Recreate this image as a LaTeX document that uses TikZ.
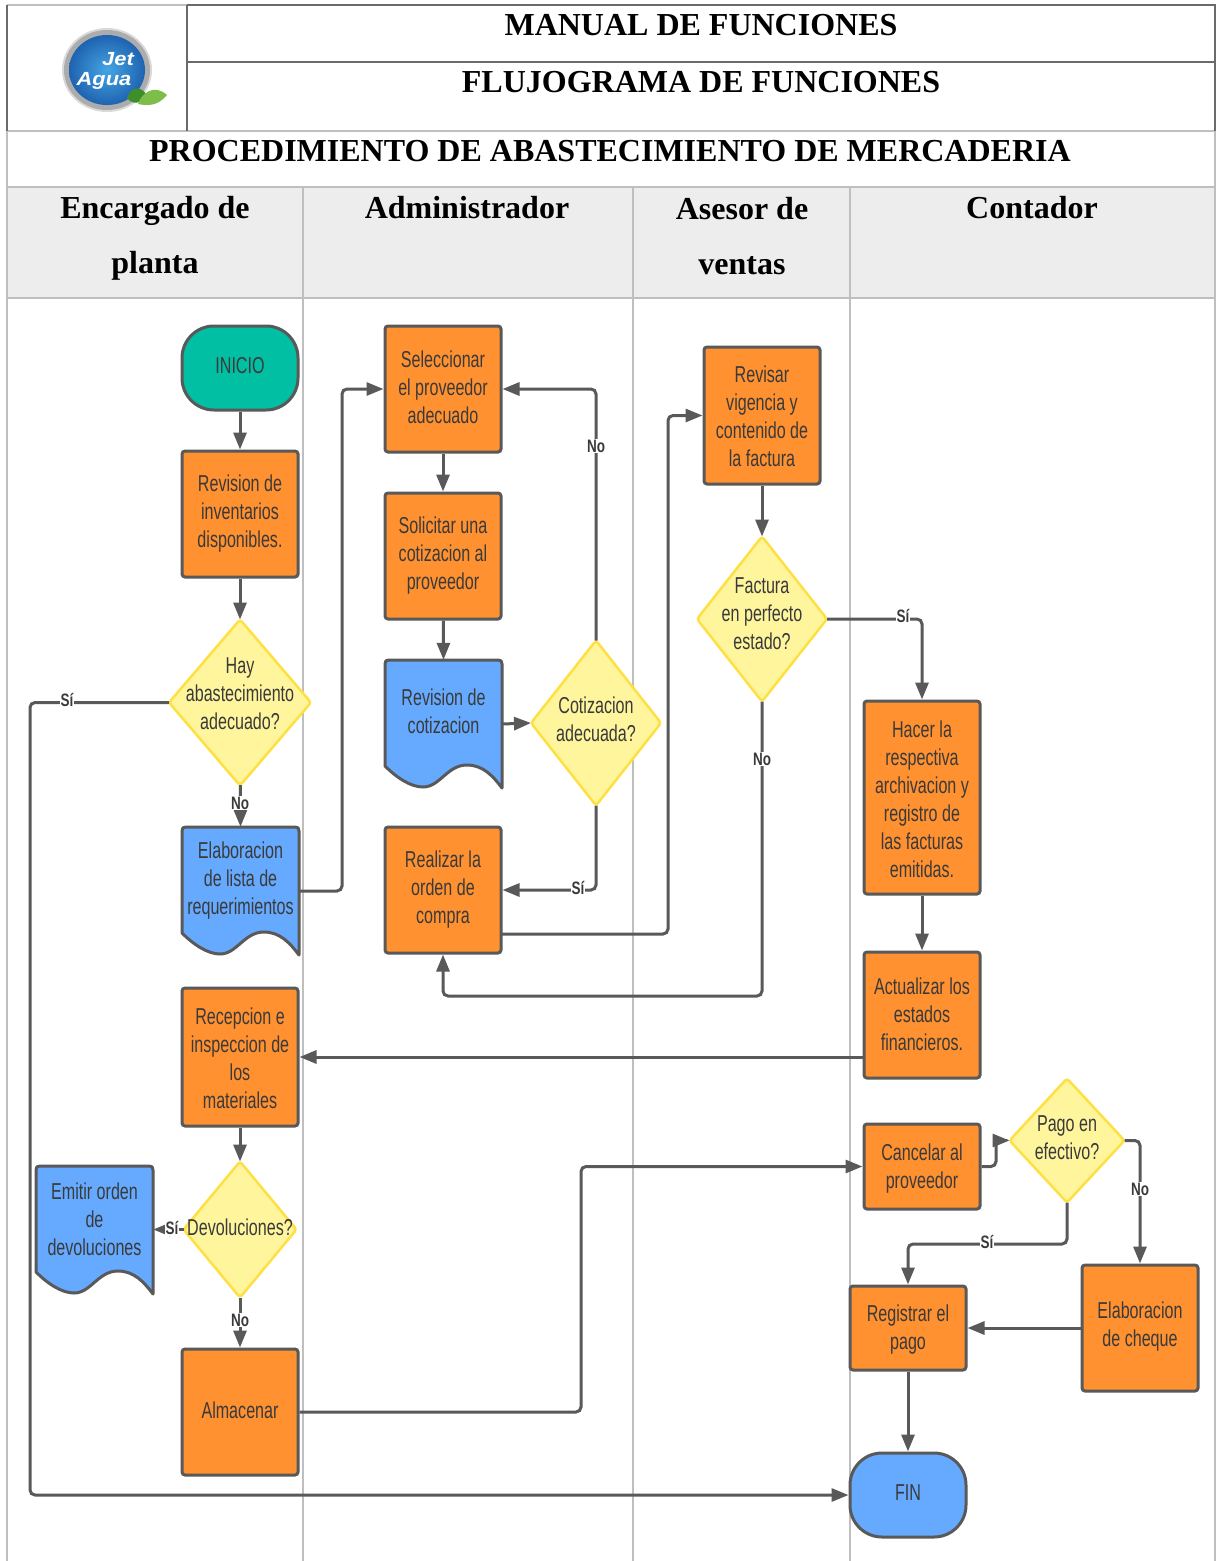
\documentclass[tikz,border=0pt]{standalone}
\usepackage{fontspec}
\usetikzlibrary{shapes.geometric,arrows.meta}
\setmainfont{Liberation Serif}
\newfontfamily\flowfont[FakeStretch=0.70]{Liberation Sans}
\newfontfamily\flowbold[FakeStretch=0.75]{Liberation Sans Bold}
\newfontfamily\logofont[FakeStretch=1.15]{Liberation Sans Bold Italic}
\definecolor{edgegray}{HTML}{595959}
\definecolor{tablegray}{HTML}{BFBFBF}
\definecolor{headfill}{HTML}{EDEDED}
\definecolor{orangefill}{HTML}{FF9130}
\definecolor{bluefill}{HTML}{66AAFF}
\definecolor{tealfill}{HTML}{00BFA3}
\definecolor{yellowfill}{HTML}{FFF59D}
\definecolor{yellowline}{HTML}{FFE042}
\definecolor{flowtext}{HTML}{3A3A3A}
\definecolor{logoblue}{HTML}{1F63B0}
\definecolor{logolight}{HTML}{45A5E4}
\definecolor{leafdark}{HTML}{3E8F2C}
\definecolor{leaflight}{HTML}{7DBE4A}
\tikzset{
  txtstyle/.style={font=\flowfont\fontsize{23}{28}\selectfont,text=flowtext,align=center,inner sep=0pt},
  ltxt/.style 2 args={label={[txtstyle,yshift=#1]center:{#2}}},
  proc/.style={draw=edgegray,line width=3pt,fill=orangefill,rounded corners=3pt,minimum width=116pt,inner sep=0pt},
  term/.style={proc,rounded corners=32pt},
  dec/.style={shape=diamond,draw=yellowline,line width=2.5pt,fill=yellowfill,rounded corners=3pt,inner sep=0pt,outer sep=0pt},
  flowedge/.style={draw=edgegray,line width=3pt,rounded corners=5pt,-{Triangle[length=17pt,width=13pt]}},
  edgelab/.style={font=\flowbold\fontsize{18}{18}\selectfont,text=flowtext,fill=white,inner sep=1pt},
  titlelab/.style={font=\bfseries\fontsize{32}{32}\selectfont,text=black,inner sep=0pt},
  gridthin/.style={draw=tablegray,line width=1.6pt},
  griddark/.style={draw=edgegray!90,line width=2pt},
}
\newcommand{\docnode}[5]{% name, x, y, text, text raise
  \path[draw=edgegray,line width=3pt,fill=bluefill,line join=round,shift={(#2,#3)}]
    (0,4) .. controls (0,1) and (1,0) .. (4,0) -- (113,0) .. controls (116,0) and (117,1) .. (117,4)
    -- (117,128) .. controls (108,116) and (98,105) .. (82,105)
    .. controls (62,105) and (55,127) .. (38,127)
    .. controls (26,127) and (12,118) .. (0,106) -- cycle;
  \node[minimum width=117pt,minimum height=128pt,inner sep=0pt,ltxt={#5}{#4}] (#1) at (#2+58.5,#3+64) {};
}
\begin{document}
\begin{tikzpicture}[x=1pt,y=-1pt]
\useasboundingbox (0,0) rectangle (1216,1561);
\fill[white] (0,0) rectangle (1216,1561);
% table
\fill[headfill] (7,187) rectangle (1215,298);
\draw[gridthin] (7,131) -- (7,1561);
\draw[gridthin] (1215,131) -- (1215,1561);
\draw[gridthin] (7,131) -- (1215,131);
\draw[gridthin] (7,187) -- (1215,187);
\draw[gridthin] (7,298) -- (1215,298);
\draw[gridthin] (303,187) -- (303,1561);
\draw[gridthin] (633,187) -- (633,1561);
\draw[gridthin] (850,187) -- (850,1561);
\draw[gridthin] (7,5) -- (187,5);
\draw[griddark] (187,5) -- (1216,5);
\draw[griddark] (7,5) -- (7,131);
\draw[griddark] (187,5) -- (187,131);
\draw[griddark] (187,62) -- (1216,62);
\draw[griddark] (1215,5) -- (1215,131);
% logo
\fill[gray!30] (107,70) ellipse [x radius=45pt,y radius=42pt];
\fill[gray!65] (107,70) ellipse [x radius=43pt,y radius=40pt];
\shade[inner color=logolight,outer color=logoblue] (107,70) ellipse [x radius=38pt,y radius=35pt];
\fill[leafdark] (127,98) .. controls (131,86) and (141,86) .. (146,94) .. controls (140,106) and (132,104) .. (127,98);
\fill[leaflight] (138,104) .. controls (142,92) and (155,84) .. (167,95) .. controls (158,106) and (148,106) .. (138,104);
\node[font=\logofont\fontsize{19}{19}\selectfont,text=white,inner sep=0pt] (logoa) at (118,59) {Jet};
\node[font=\logofont\fontsize{19}{19}\selectfont,text=white,inner sep=0pt] (logob) at (104,81) {Agua};
% titles
\node[titlelab] (t1) at (701,25) {MANUAL DE FUNCIONES};
\node[titlelab] (t2) at (701,82) {FLUJOGRAMA DE FUNCIONES};
\node[titlelab] (t3) at (610,151) {PROCEDIMIENTO DE ABASTECIMIENTO DE MERCADERIA};
\node[titlelab,align=center,font=\bfseries\fontsize{32}{55}\selectfont] (h1) at (155,238) {Encargado de\\planta};
\node[titlelab] (h2) at (467,208) {Administrador};
\node[titlelab,align=center,font=\bfseries\fontsize{32}{55}\selectfont] (h3) at (742,236) {Asesor de\\ventas};
\node[titlelab] (h4) at (1032,208) {Contador};
% nodes
\node[term,fill=tealfill,minimum height=84pt,ltxt={2pt}{INICIO}] (inicio) at (240,368) {};
\node[proc,minimum height=126pt,ltxt={0pt}{Revision de\\inventarios\\disponibles.}] (revinv) at (240,514) {};
\node[dec,minimum width=142pt,minimum height=166pt,ltxt={9pt}{Hay\\abastecimiento\\adecuado?}] (dhay) at (240,702.5) {};
\docnode{lista}{182}{827}{Elaboracion\\de lista de\\requerimientos}{10pt}
\node[proc,minimum height=126pt,ltxt={2pt}{Seleccionar\\el proveedor\\adecuado}] (sel) at (443,389) {};
\node[proc,minimum height=126pt,ltxt={0pt}{Solicitar una\\cotizacion al\\proveedor}] (sol) at (443,556) {};
\docnode{revcot}{385}{660}{Revision de\\cotizacion}{13pt}
\node[dec,minimum width=130pt,minimum height=165pt,ltxt={4pt}{Cotizacion\\adecuada?}] (dcot) at (596,723) {};
\node[proc,minimum height=126pt,ltxt={0pt}{Realizar la\\orden de\\compra}] (real) at (443,890) {};
\node[proc,minimum height=137pt,ltxt={-1pt}{Revisar\\vigencia y\\contenido de\\la factura}] (revis) at (762,415.5) {};
\node[dec,minimum width=130pt,minimum height=165pt,ltxt={5pt}{Factura\\en perfecto\\estado?}] (dfac) at (762,619) {};
\node[proc,minimum height=193pt,ltxt={-2pt}{Hacer la\\respectiva\\archivacion y\\registro de\\las facturas\\emitidas.}] (hacer) at (922,797.5) {};
\node[proc,minimum height=126pt,ltxt={1pt}{Actualizar los\\estados\\financieros.}] (actual) at (922,1015) {};
\node[proc,minimum height=138pt,ltxt={-1pt}{Recepcion e\\inspeccion de\\los\\materiales}] (recep) at (240,1057) {};
\node[dec,minimum width=113pt,minimum height=136pt,ltxt={2pt}{Devoluciones?}] (ddev) at (240,1229.5) {};
\docnode{emitir}{36}{1166}{Emitir orden\\de\\devoluciones}{11pt}
\node[proc,minimum height=126pt,ltxt={2pt}{Almacenar}] (alm) at (240,1412) {};
\node[proc,minimum height=85pt,ltxt={-2pt}{Cancelar al\\proveedor}] (canc) at (922,1166.5) {};
\node[dec,minimum width=115pt,minimum height=124pt,ltxt={3pt}{Pago en\\efectivo?}] (dpago) at (1067,1140.5) {};
\node[proc,minimum height=84pt,ltxt={-2pt}{Registrar el\\pago}] (reg) at (908,1328) {};
\node[proc,minimum height=126pt,ltxt={1pt}{Elaboracion\\de cheque}] (cheque) at (1140,1328) {};
\node[term,fill=bluefill,minimum height=84pt,ltxt={2pt}{FIN}] (fin) at (908,1495) {};
\coordinate (realout) at (501,934);
% connectors
\draw[flowedge] (inicio) -- (revinv);
\draw[flowedge] (revinv) -- (dhay);
\draw[flowedge] (dhay) -- (lista.north);
\draw[flowedge] (dhay.west) -- (30,702.5) |- (fin.west);
\draw[flowedge] (lista.east) -- (342,891) |- (sel.west);
\draw[flowedge] (sel) -- (sol);
\draw[flowedge] (sol) -- (revcot.north);
\draw[flowedge] (revcot.east) -- (dcot.west);
\draw[flowedge] (dcot.north) |- (sel.east);
\draw[flowedge] (dcot.south) |- (real.east);
\draw[flowedge] (realout) -- (668,934) |- (revis.west);
\draw[flowedge] (revis) -- (dfac);
\draw[flowedge] (dfac.east) -| (hacer.north);
\draw[flowedge] (dfac.south) -- (762,996) -| (real.south);
\draw[flowedge] (hacer) -- (actual);
\draw[flowedge] (actual.west |- recep.east) -- (recep.east);
\draw[flowedge] (recep) -- (ddev);
\draw[flowedge] (ddev.west) -- (emitir.east |- ddev.west);
\draw[flowedge] (ddev) -- (alm);
\draw[flowedge] (alm.east) -- (581,1412) |- (canc.west);
\draw[flowedge] (canc.east) -- (996,1166.5) |- (dpago.west);
\draw[flowedge] (dpago.east) -| (cheque.north);
\draw[flowedge] (dpago.south) -- (1067,1244) -| (reg.north);
\draw[flowedge] (cheque.west) -- (reg.east);
\draw[flowedge] (reg) -- (fin);
% edge labels
\node[edgelab] (l1) at (67,700) {Sí};
\node[edgelab] (l2) at (240,803) {No};
\node[edgelab] (l3) at (596,446) {No};
\node[edgelab] (l4) at (578,888) {Sí};
\node[edgelab] (l5) at (903,616) {Sí};
\node[edgelab] (l6) at (762,759) {No};
\node[edgelab] (l7) at (172,1228) {Sí};
\node[edgelab] (l8) at (240,1320) {No};
\node[edgelab] (l9) at (1140,1189) {No};
\node[edgelab] (l10) at (987,1242) {Sí};
\end{tikzpicture}
\end{document}
